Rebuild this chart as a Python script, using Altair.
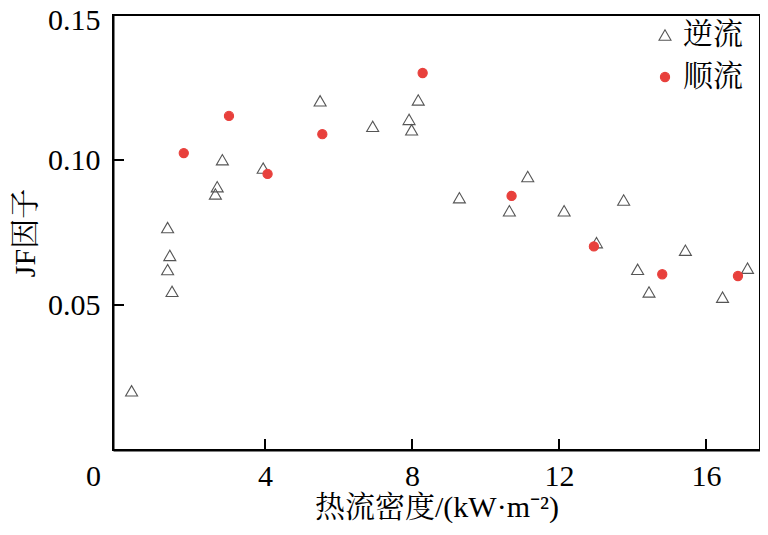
import altair as alt
import pandas as pd

# 逆流 (counter-flow) series
counter_x = [0.37, 1.35, 1.41, 1.35, 1.47, 2.70, 2.65, 2.84, 3.95, 5.50, 6.93, 7.92, 7.99, 8.17,
             9.29, 11.15, 10.65, 12.14, 13.02, 13.76, 14.14, 14.45, 15.44, 16.45, 17.13]
counter_y = [0.0204, 0.0767, 0.0671, 0.0622, 0.0547, 0.0908, 0.0883, 0.1001, 0.0972, 0.1204,
             0.1116, 0.1140, 0.1104, 0.1207, 0.0870, 0.0943, 0.0825, 0.0825, 0.0715, 0.0862,
             0.0623, 0.0545, 0.0689, 0.0527, 0.0627]
# 顺流 (co-flow) series
co_x = [1.79, 3.02, 4.07, 5.56, 8.29, 10.71, 12.95, 14.81, 16.87]
co_y = [0.1024, 0.1152, 0.0952, 0.1089, 0.1300, 0.0876, 0.0702, 0.0606, 0.0600]

series_names = ["逆流", "顺流"]
x_ticks = [0, 4, 8, 12, 16]
y_ticks = [0.05, 0.10, 0.15]
x_title = "热流密度/(kW·m⁻²)"
y_title = "JF因子"

df = pd.DataFrame({
    "series": [series_names[0]] * len(counter_x) + [series_names[1]] * len(co_x),
    "x": counter_x + co_x,
    "y": counter_y + co_y,
})
xt = pd.DataFrame({"x": [v for v in x_ticks if v != 0]})
yt = pd.DataFrame({"y": y_ticks})

FONT = "Liberation Serif, Noto Serif CJK SC, Noto Sans CJK SC"
RED = "#e8403c"
GRAY = "#555555"

xscale = alt.Scale(domain=[-0.136, 17.47], nice=False, zero=False)
yscale = alt.Scale(domain=[0, 0.15], nice=False, zero=False)

xaxis = alt.Axis(values=x_ticks, format="d", ticks=False, tickSize=0, grid=False,
                 domainColor="black", domainWidth=2,
                 labelFontSize=30, labelFont=FONT, labelColor="black", labelPadding=11,
                 labelFlush=False, labelOverlap=False,
                 labelOffset={"condition": {"test": "datum.value === 0", "value": -25}, "value": 0},
                 title=x_title, titleFontSize=30, titleFont=FONT, titleFontWeight="normal",
                 titleColor="black", titleY=66, titleBaseline="alphabetic")
yaxis = alt.Axis(values=y_ticks, format=".2f", ticks=False, tickSize=0, grid=False,
                 domainColor="black", domainWidth=2,
                 labelFontSize=30, labelFont=FONT, labelColor="black", labelPadding=13,
                 labelFlush=False, labelOverlap=False,
                 labelOffset={"condition": {"test": "datum.value > 0.14", "value": 5}, "value": 0},
                 title=y_title, titleFontSize=30, titleFont=FONT, titleFontWeight="normal",
                 titleColor="black", titleX=-88, titleBaseline="middle")

X = alt.X("x:Q", scale=xscale, axis=xaxis)
Y = alt.Y("y:Q", scale=yscale, axis=yaxis)

leg = alt.Legend(title=None, orient="none", legendX=537, legendY=5,
                 labelFontSize=30, labelFont=FONT, labelColor="black",
                 rowPadding=12, padding=0, labelOffset=3, symbolStrokeWidth=1.1)

points = alt.Chart(df).mark_point(opacity=1, strokeWidth=1.1).encode(
    x=X, y=Y,
    shape=alt.Shape("series:N", scale=alt.Scale(domain=series_names, range=["triangle-up", "circle"]), legend=leg),
    fill=alt.Fill("series:N", scale=alt.Scale(domain=series_names, range=["transparent", RED]), legend=leg),
    stroke=alt.Stroke("series:N", scale=alt.Scale(domain=series_names, range=[GRAY, RED]), legend=leg),
    size=alt.Size("series:N", scale=alt.Scale(domain=series_names, range=[144, 85]), legend=leg),
)

xticks = alt.Chart(xt).mark_rule(color="black", strokeWidth=2).encode(
    x=X, y=alt.value(435), y2=alt.value(424))
yticks = alt.Chart(yt).mark_rule(color="black", strokeWidth=2).encode(
    y=Y, x=alt.value(0), x2=alt.value(11))

chart = alt.layer(xticks, yticks, points).properties(
    width=647, height=435,
    autosize=alt.AutoSizeParams(type="none"),
    padding={"left": 105, "top": 7, "right": 0, "bottom": 73},
    background="white",
).configure_view(stroke="black", strokeWidth=2)

chart.save("out.html", embed_options={"renderer": "svg", "actions": False})
